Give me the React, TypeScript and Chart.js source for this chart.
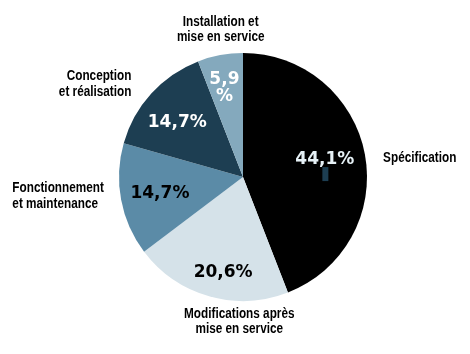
import React, { useEffect, useRef } from "react";
import { Chart, registerables } from "chart.js";

Chart.register(...registerables);

const categories = [
  "Spécification",
  "Modifications après mise en service",
  "Fonctionnement et maintenance",
  "Conception et réalisation",
  "Installation et mise en service",
];
const values = [44.1, 20.6, 14.7, 14.7, 5.9];
const valueLabels = [["44,1%"], ["20,6%"], ["14,7%"], ["14,7%"], ["5,9", "%"]];
const outerLabels = [
  ["Spécification"],
  ["Modifications après", "mise en service"],
  ["Fonctionnement", "et maintenance"],
  ["Conception", "et réalisation"],
  ["Installation et", "mise en service"],
];
const colors = ["#000000", "#d5e2e9", "#5b8ba7", "#1d3e52", "#84a9bd"];
const valueColors = ["#e6f1f6", "#000000", "#000000", "#ffffff", "#ffffff"];

// layout offsets (fraction of radius) for label placement
const innerPos = [
  [0.66, -0.14],
  [-0.16, 0.77],
  [-0.67, 0.13],
  [-0.53, -0.44],
  [-0.15, -0.72],
];
const outerPos: [number, number, CanvasTextAlign][] = [
  [1.13, -0.15, "left"],
  [-0.03, 1.165, "center"],
  [-1.86, 0.155, "left"],
  [-0.9, -0.75, "right"],
  [-0.18, -1.19, "center"],
];

const labelPlugin = {
  id: "labels",
  afterDatasetsDraw(chart: any) {
    const ctx = chart.ctx;
    const meta = chart.getDatasetMeta(0);
    const arc0 = meta.data[0];
    const cx = arc0.x;
    const cy = arc0.y;
    const r = arc0.outerRadius;
    ctx.save();
    // small artifact mark under comma
    ctx.fillStyle = "#1d3e52";
    ctx.fillRect(cx + 0.64 * r, cy - 0.08 * r, 6, 14);
    meta.data.forEach((arc: any, i: number) => {
      const [fx, fy] = innerPos[i];
      ctx.font = "bold 17px 'DejaVu Sans'";
      ctx.fillStyle = valueColors[i];
      ctx.textAlign = "center";
      ctx.textBaseline = "middle";
      const lines = valueLabels[i];
      lines.forEach((t, j) => {
        ctx.fillText(t, cx + fx * r, cy + fy * r + (j - (lines.length - 1) / 2) * 17);
      });
      const [ox, oy, al] = outerPos[i];
      ctx.font = "bold 14px 'Liberation Sans'";
      ctx.fillStyle = "#000000";
      ctx.textAlign = al;
      const ol = outerLabels[i];
      ol.forEach((t, j) => {
        ctx.save();
        ctx.translate(cx + ox * r, cy + oy * r + (j - (ol.length - 1) / 2) * 15.5);
        ctx.scale(0.84, 1);
        ctx.fillText(t, 0, 0);
        ctx.restore();
      });
    });
    ctx.restore();
  },
};

export default function App() {
  const ref = useRef<HTMLCanvasElement>(null);
  useEffect(() => {
    const chart = new Chart(ref.current!, {
      type: "pie",
      data: {
        labels: categories,
        datasets: [
          {
            data: values,
            backgroundColor: colors,
            borderWidth: 0,
          },
        ],
      },
      options: {
        animation: false,
        responsive: false,
        layout: { padding: { left: 119, right: 103, top: 53, bottom: 53 } },
        plugins: { legend: { display: false }, tooltip: { enabled: false } },
      },
      plugins: [labelPlugin],
    });
    return () => chart.destroy();
  }, []);
  return (
    <div style={{ position: "fixed", left: 0, top: 0, width: 470, height: 354, background: "#fff" }}>
      <canvas ref={ref} width={470} height={354} />
    </div>
  );
}
